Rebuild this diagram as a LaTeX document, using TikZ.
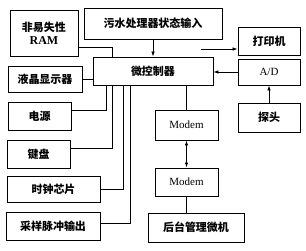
\documentclass[tikz,border=0pt]{standalone}
\usepackage{fontspec}
\setmainfont{Liberation Serif}
\newfontfamily\cjk{Noto Sans CJK SC}
\usepackage{tikz}
\usetikzlibrary{arrows.meta, positioning}

\begin{document}
\begin{tikzpicture}[
  x=1pt, y=-1pt,
  blk/.style={rectangle, draw=black, line width=0.9pt,
    inner sep=0pt, align=center,
    font=\fontsize{11pt}{13pt}\selectfont\cjk\bfseries},
  ln/.style={line width=0.7pt},
  arr/.style={-{Latex[length=5pt,width=3.5pt]}, line width=0.7pt},
  darr/.style={{Latex[length=5pt,width=3.5pt]}-{Latex[length=5pt,width=3.5pt]}, line width=0.9pt}
]
  \useasboundingbox (0,0) rectangle (306,250);

  % left column
  \node[blk, minimum width=68pt, minimum height=46pt] (ram) at (44,33)
    {非易失性\\{\rmfamily\fontsize{12pt}{13pt}\selectfont RAM}};
  \node[blk, minimum width=74pt, minimum height=26pt] (lcd) at (45,79) {液晶显示器};
  \node[blk, minimum width=63pt, minimum height=28pt] (power) at (39.5,116) {电源};
  \node[blk, minimum width=63pt, minimum height=28pt] (kbd) at (38.5,154) {键盘};
  \node[blk, minimum width=93pt, minimum height=26pt] (clock) at (53.5,189) {时钟芯片};
  \node[blk, minimum width=94pt, minimum height=28pt] (pulse) at (53,226) {采样脉冲输出};

  % centre
  \node[blk, minimum width=138pt, minimum height=31pt] (input) at (153,23.5) {污水处理器状态输入};
  \node[blk, minimum width=120pt, minimum height=28pt] (mcu) at (153,71) {微控制器};
  \node[blk, minimum width=63pt, minimum height=30pt, font=\fontsize{11pt}{13pt}\selectfont\rmfamily] (modemA) at (186.5,125) {Modem};
  \node[blk, minimum width=63pt, minimum height=28pt, font=\fontsize{11pt}{13pt}\selectfont\rmfamily] (modemB) at (186.5,182) {Modem};
  \node[blk, minimum width=96pt, minimum height=29pt] (host) at (196,227.5) {后台管理微机};

  % right column
  \node[blk, minimum width=62pt, minimum height=28pt] (printer) at (269,41) {打印机};
  \node[blk, minimum width=62pt, minimum height=26pt, font=\fontsize{11pt}{13pt}\selectfont\rmfamily] (ad) at (269,72) {A/D};
  \node[blk, minimum width=62pt, minimum height=29pt] (probe) at (269,117.5) {探头};

  \coordinate (prt) at (201,49);

  \draw[ln] (ram.east |- 0,47) -| (112,0 |- mcu.north);
  \draw[arr] (input.south) -- (mcu.north);
  \draw[arr] (prt) -- (prt -| printer.west);
  \draw[arr] (ad.west) -- (ad.west -| mcu.east);
  \draw[arr] (probe.north) -- (ad.south);
  \draw[ln] (lcd.east) -- (lcd.east -| mcu.west);
  \draw[ln] (power.east |- 0,110) -| (106,0 |- mcu.south);
  \draw[ln] (kbd.east |- 0,148) -| (112,0 |- mcu.south);
  \draw[ln] (clock.east) -| (123,0 |- mcu.south);
  \draw[ln] (pulse.east |- 0,223) -| (130,0 |- mcu.south);
  \draw[ln] (modemA.north |- mcu.south) -- (modemA.north);
  \draw[darr] (modemA.south) -- (modemB.north);
  \draw[ln] (modemB.south) -- (modemB.south |- host.north);
\end{tikzpicture}
\end{document}
